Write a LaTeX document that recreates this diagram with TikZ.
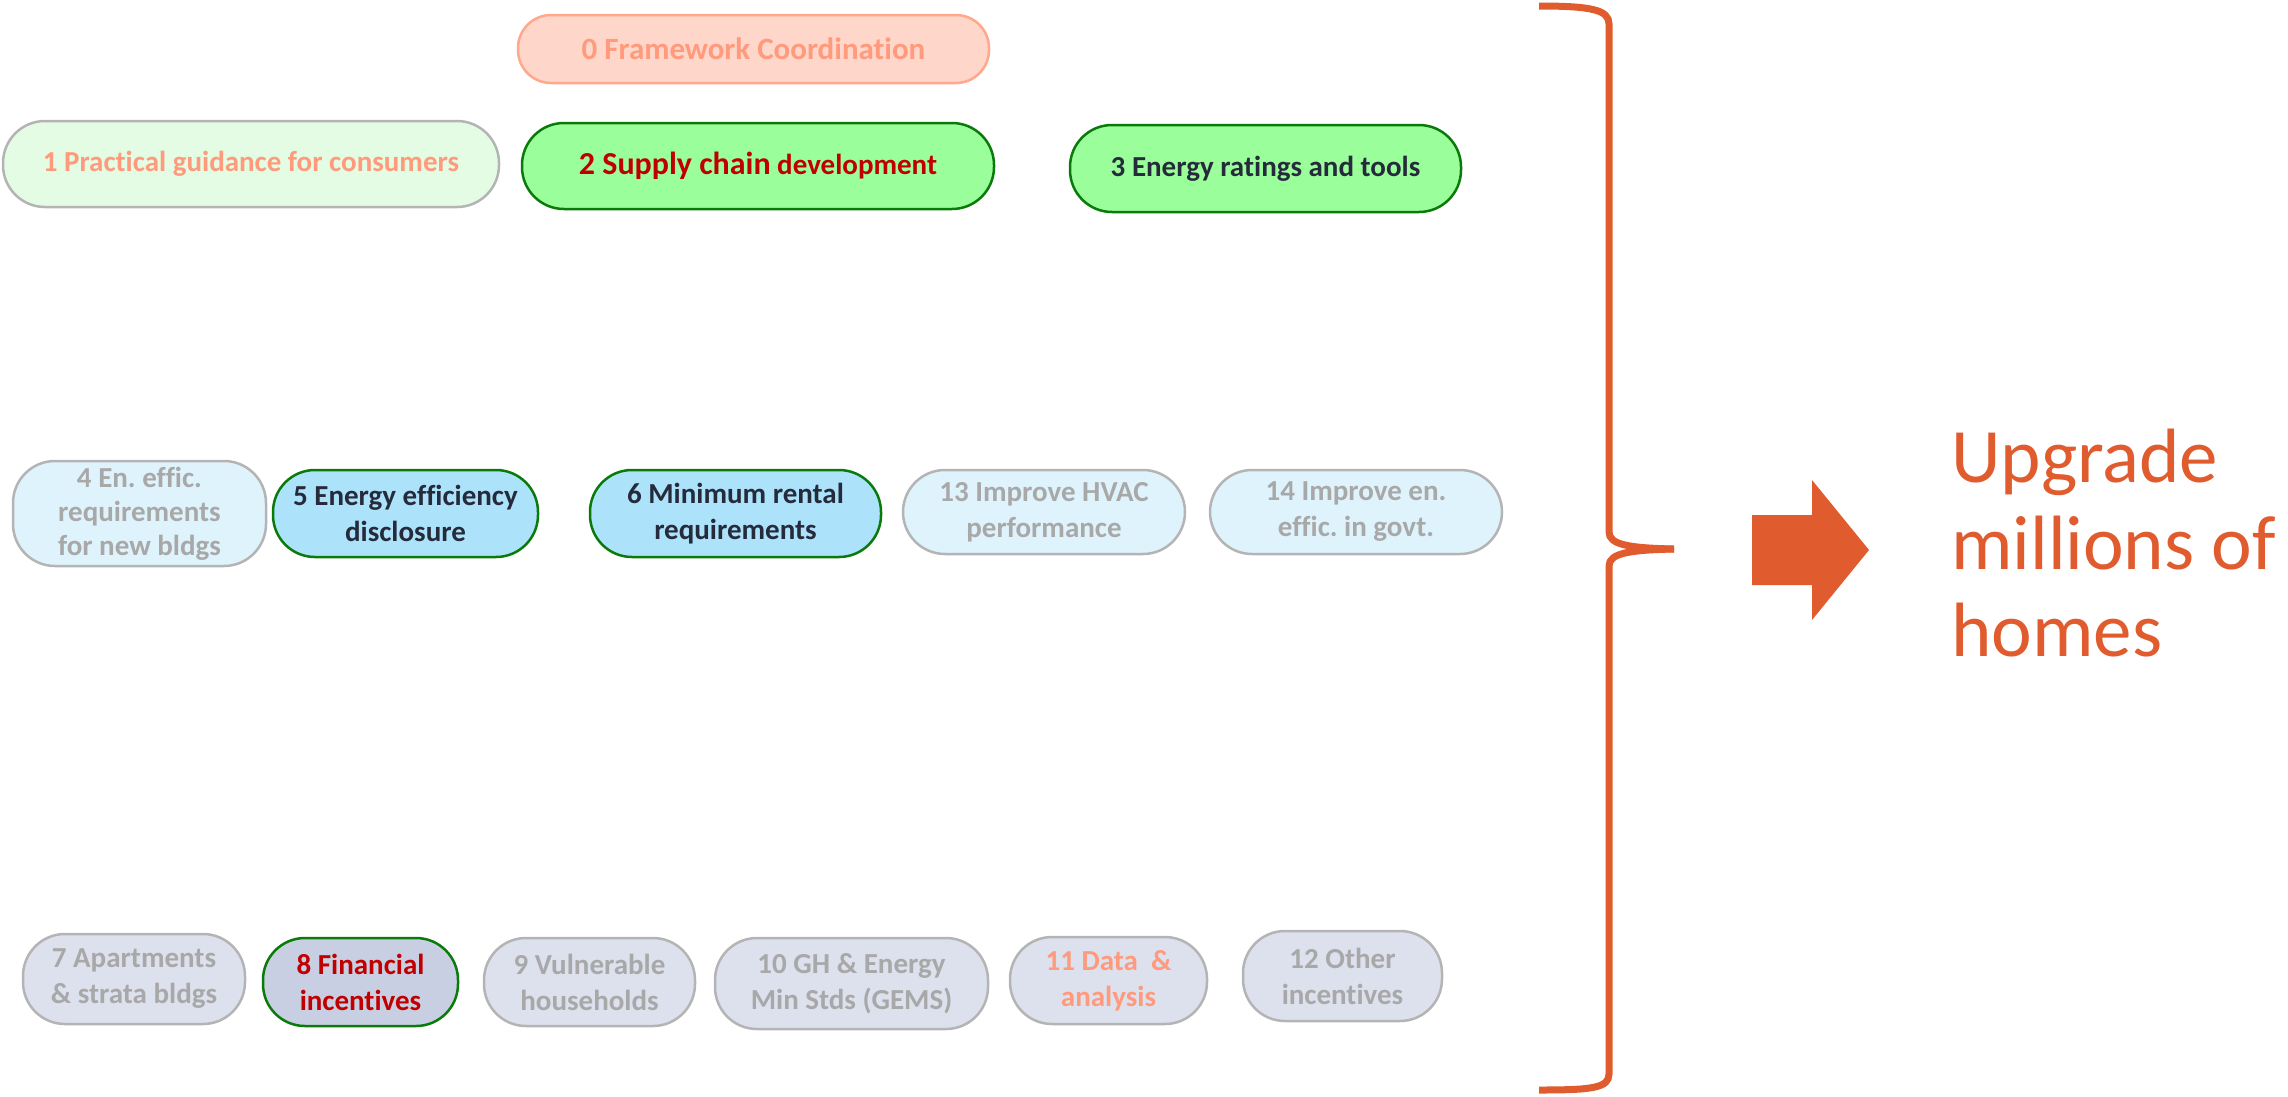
\documentclass[tikz,border=0pt]{standalone}
\usepackage{fontspec}
\setmainfont{Carlito}[Ligatures=NoCommon]
\frenchspacing
\definecolor{salmon}{HTML}{FF9A7C}
\definecolor{salmonfill}{HTML}{FFD6CA}
\definecolor{salmonline}{HTML}{FFA88E}
\definecolor{palegreen}{HTML}{E4FCE4}
\definecolor{brightgreen}{HTML}{9AFF9A}
\definecolor{darkgreen}{HTML}{0A7A0A}
\definecolor{darkred}{HTML}{C00000}
\definecolor{navy}{HTML}{262B3B}
\definecolor{greyline}{HTML}{B4B4B4}
\definecolor{greytext}{HTML}{A8A8A8}
\definecolor{paleblue}{HTML}{DFF3FC}
\definecolor{midblue}{HTML}{ACE3FB}
\definecolor{palegrey}{HTML}{DDE1EE}
\definecolor{midgrey}{HTML}{C9CFE3}
\definecolor{brand}{HTML}{E05C2E}
\tikzset{
  pill/.style={rectangle, rounded corners=42pt, line width=2.5pt, align=center,
    inner sep=0pt, font=\bfseries\fontsize{29}{36}\selectfont},
  pillzero/.style={pill, rounded corners=33pt, fill=salmonfill, draw=salmonline, text=salmon},
  pillpale/.style={pill, fill=palegreen, draw=greyline, text=salmon},
  pillgreen/.style={pill, fill=brightgreen, draw=darkgreen},
  pillpaleblue/.style={pill, fill=paleblue, draw=greyline, text=greytext},
  pillblue/.style={pill, fill=midblue, draw=darkgreen, text=navy},
  pillgrey/.style={pill, fill=palegrey, draw=greyline, text=greytext},
  bracepath/.style={draw=brand, line width=7pt},
}
\begin{document}
\begin{tikzpicture}[x=1pt,y=-1pt]
\useasboundingbox (0,0) rectangle (2288,1096);
% top rows
\node[pillzero, minimum width=471pt, minimum height=68pt, font=\bfseries\fontsize{31}{36}\selectfont] (n0) at (753.5,49) {0 Framework Coordination};
\node[pillpale, minimum width=496pt, minimum height=86pt] (n1) at (251,164) {1 Practical guidance for consumers};
\node[pillgreen, text=darkred, minimum width=472pt, minimum height=86pt] (n2) at (758,166) {{\fontsize{32}{36}\selectfont 2 Supply chain} development};
\node[pillgreen, text=navy, minimum width=391pt, minimum height=87pt] (n3) at (1265.5,168.5) {3 Energy ratings and tools};
% middle row
\node[pillpaleblue, minimum width=253pt, minimum height=105pt, font=\bfseries\fontsize{29}{34}\selectfont] (n4) at (139.5,513.5) {4 En. effic.\\requirements\\for new bldgs};
\node[pillblue, minimum width=265pt, minimum height=87pt] (n5) at (405.5,513.5) {5 Energy efficiency\\disclosure};
\node[pillblue, minimum width=291pt, minimum height=87pt] (n6) at (735.5,513.5) {6 Minimum rental\\requirements};
\node[pillpaleblue, minimum width=282pt, minimum height=84pt] (n13) at (1044,512) {13 Improve HVAC\\performance};
\node[pillpaleblue, minimum width=292pt, minimum height=84pt] (n14) at (1356,512) {14 Improve en.\\effic. in govt.};
% bottom row
\node[pillgrey, minimum width=222pt, minimum height=90pt] (n7) at (134,979) {7 Apartments\\\& strata bldgs};
\node[pill, fill=midgrey, draw=darkgreen, text=darkred, minimum width=195pt, minimum height=88pt] (n8) at (360.5,982) {8 Financial\\incentives};
\node[pillgrey, minimum width=211pt, minimum height=88pt] (n9) at (589.5,982) {9 Vulnerable\\households};
\node[pillgrey, minimum width=273pt, minimum height=91pt] (n10) at (851.5,983.5) {10 GH \& Energy\\Min Stds (GEMS)};
\node[pillgrey, text=salmon, minimum width=197pt, minimum height=87pt] (n11) at (1108.5,980.5) {11 Data~ \&\\analysis};
\node[pillgrey, minimum width=199pt, minimum height=90pt] (n12) at (1342.5,976) {12 Other\\incentives};
% brace
\coordinate (btop) at (1539,6);
\coordinate (btip) at (1674,549);
\coordinate (bbot) at (1539,1090);
\draw[bracepath] (btop) .. controls (1592,6) and (1609,10) .. (1609,24) -- (1609,532)
  .. controls (1609,545) and (1630,548) .. (btip);
\draw[bracepath] (btip) .. controls (1630,550) and (1609,553) .. (1609,566) -- (1609,1074)
  .. controls (1609,1088) and (1592,1090) .. (bbot);
% arrow
\fill[brand] (1752,515) -- (1812,515) -- (1812,480) -- (1869,550) -- (1812,620) -- (1812,585) -- (1752,585) -- cycle;
% outcome text
\node[anchor=north west, inner sep=0pt, align=left, text=brand, font=\fontsize{77}{87}\selectfont] (goal) at (1951,429) {Upgrade\\millions of\\homes};
\end{tikzpicture}
\end{document}
